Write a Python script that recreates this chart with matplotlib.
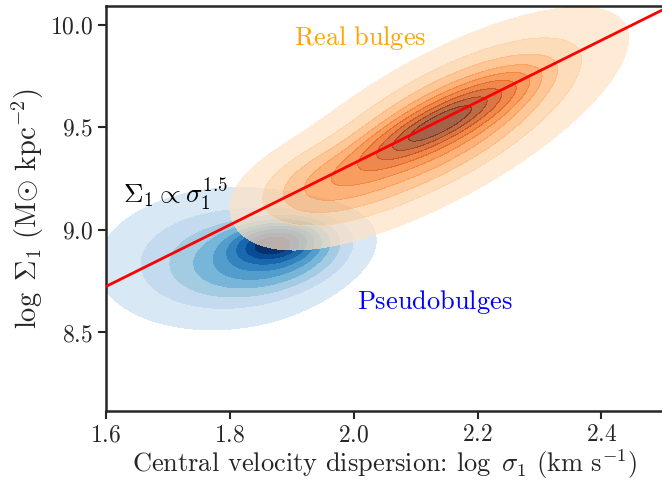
import numpy as np
import matplotlib
matplotlib.use("Agg")
import matplotlib.pyplot as plt
from matplotlib.ticker import FuncFormatter, FixedLocator

# ---- data ----------------------------------------------------------------
# Each population is described by Gaussian components fitted by eye to the
# density contours: centre (x, y), spread (x, y), correlation, weight.
pseudo_cx = [1.87, 1.87, 1.79]
pseudo_cy = [8.93, 8.88, 8.86]
pseudo_sx = [0.035, 0.065, 0.10]
pseudo_sy = [0.05, 0.10, 0.17]
pseudo_rho = [0.20, 0.30, 0.10]
pseudo_w = [0.25, 0.33, 0.42]

real_cx = [2.14, 2.14, 1.94]
real_cy = [9.50, 9.52, 9.22]
real_sx = [0.135, 0.065, 0.07]
real_sy = [0.26, 0.11, 0.12]
real_rho = [0.74, 0.85, 0.35]
real_w = [0.65, 0.28, 0.07]

relation_slope = 1.5
relation_intercept = 6.324

xticks = [1.6, 1.8, 2.0, 2.2, 2.4]
yticks = [8.5, 9.0, 9.5, 10.0]
iso_props = np.linspace(0.05, 1.0, 10)

# ---- helpers ----------------------------------------------------------------
def mixture(X, Y, cx, cy, sx, sy, rho, w):
    Z = np.zeros_like(X)
    for a, b, s, t, r, k in zip(cx, cy, sx, sy, rho, w):
        dx = (X - a) / s
        dy = (Y - b) / t
        q = (dx ** 2 - 2 * r * dx * dy + dy ** 2) / (1 - r ** 2)
        Z += k * np.exp(-0.5 * q) / (2 * np.pi * s * t * np.sqrt(1 - r ** 2))
    return Z


def iso_levels(Z, props):
    vals = np.sort(Z.ravel())[::-1]
    cum = np.cumsum(vals) / vals.sum()
    idx = np.searchsorted(cum, 1 - np.asarray(props))
    lev = np.take(vals, idx, mode="clip").astype(float)
    lev = np.sort(lev)
    lev[-1] = Z.max() * 1.001
    return lev


plt.rcParams["mathtext.fontset"] = "cm"
plt.rcParams["font.family"] = "cmr10"
plt.rcParams["axes.unicode_minus"] = False

fig = plt.figure(figsize=(6.62, 4.83), dpi=100)
ax = fig.add_axes([0.160, 0.149, 0.842, 0.839])

gx = np.linspace(1.3, 2.8, 400)
gy = np.linspace(7.9, 10.6, 400)
X, Y = np.meshgrid(gx, gy)

Zp = mixture(X, Y, pseudo_cx, pseudo_cy, pseudo_sx, pseudo_sy, pseudo_rho, pseudo_w)
Zr = mixture(X, Y, real_cx, real_cy, real_sx, real_sy, real_rho, real_w)

lp = iso_levels(Zp, iso_props)
lr = iso_levels(Zr, iso_props)
nb = len(lp) - 1
ax.contourf(X, Y, Zp, levels=lp,
            colors=[plt.cm.Blues(v) for v in np.linspace(0.15, 1.0, nb)],
            zorder=1)
ax.contourf(X, Y, Zr, levels=lr,
            colors=[plt.cm.Oranges(v) for v in np.linspace(0.15, 1.0, nb)],
            alpha=0.72, zorder=2)

ax.axline((0, relation_intercept), slope=relation_slope, color="red", lw=2.0, zorder=3)

ax.text(1.903, 9.903, r"$\mathrm{Real\ bulges}$", color="orange", fontsize=19,
        ha="left", va="baseline", zorder=4)
ax.text(2.0055, 8.6125, r"$\mathrm{Pseudobulges}$", color="blue", fontsize=19,
        ha="left", va="baseline", zorder=4)
ax.text(1.627, 9.133, r"$\Sigma_1 \propto \sigma_1^{1.5}$", color="black", fontsize=19.5,
        ha="left", va="baseline", zorder=4)

ax.set_xlim(1.6, 2.5)
ax.set_ylim(8.117, 10.092)
ax.xaxis.set_major_locator(FixedLocator(xticks))
ax.yaxis.set_major_locator(FixedLocator(yticks))
fmt = FuncFormatter(lambda v, p: r"$%.1f$" % v)
ax.xaxis.set_major_formatter(fmt)
ax.yaxis.set_major_formatter(fmt)
ax.tick_params(direction="out", length=6, width=1.5, colors="#262626",
               labelsize=17, labelcolor="#262626")
for s in ax.spines.values():
    s.set_linewidth(1.8)
    s.set_color("#262626")

ax.set_xlabel(r"Central velocity dispersion: $\log\ \sigma_1$ (km s$^{-1}$)",
              fontsize=19, color="#262626", labelpad=1)
ax.set_ylabel(r"$\log\ \Sigma_1\ (\mathrm{M}{\odot}\ \mathrm{kpc}^{-2})$",
              fontsize=20.5, color="#262626", labelpad=3)

fig.savefig("out.png", dpi=100)
